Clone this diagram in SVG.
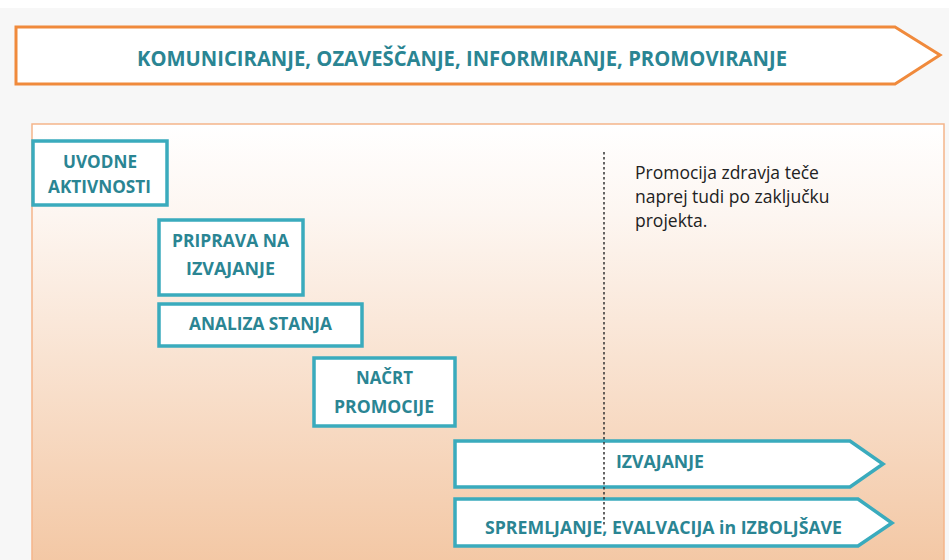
<svg xmlns="http://www.w3.org/2000/svg" width="949" height="560" viewBox="0 0 949 560">
<defs>
<linearGradient id="bg" x1="0" y1="0" x2="0" y2="1">
<stop offset="0" stop-color="#ffffff"/>
<stop offset="0.2" stop-color="#fdf6f1"/>
<stop offset="1" stop-color="#f3c6a2"/>
</linearGradient>
<style>
.box{fill:#ffffff;stroke:#3aabbd;stroke-width:3.5}
.lbl{font-family:"Open Sans","Liberation Sans",sans-serif;font-weight:bold;font-size:17.5px;fill:#2a8593}
.note{font-family:"Open Sans","Liberation Sans",sans-serif;font-size:17.5px;fill:#222222}
</style>
</defs>
<rect x="0" y="0" width="949" height="560" fill="#f7f7f7"/>
<rect x="0" y="0" width="949" height="8" fill="#ffffff"/>
<g id="top-arrow">
<polygon points="16,27 895,27 940,55 895,84 16,84" fill="#ffffff" stroke="#f08a3c" stroke-width="3"/>
<text class="lbl" x="137" y="66" style="font-size:20.5px" textLength="650" lengthAdjust="spacingAndGlyphs">KOMUNICIRANJE, OZAVEŠČANJE, INFORMIRANJE, PROMOVIRANJE</text>
</g>
<g id="frame">
<rect x="32" y="124" width="912" height="450" fill="url(#bg)" stroke="#f5b58a" stroke-width="1.5"/>
</g>
<g id="uvodne">
<rect class="box" x="33" y="141" width="134" height="64"/>
<text class="lbl" x="63" y="168" textLength="74" lengthAdjust="spacingAndGlyphs">UVODNE</text>
<text class="lbl" x="48" y="193" textLength="103" lengthAdjust="spacingAndGlyphs">AKTIVNOSTI</text>
</g>
<g id="priprava">
<rect class="box" x="159" y="220" width="144" height="75"/>
<text class="lbl" x="172" y="247" textLength="117" lengthAdjust="spacingAndGlyphs">PRIPRAVA NA</text>
<text class="lbl" x="186" y="275" textLength="89" lengthAdjust="spacingAndGlyphs">IZVAJANJE</text>
</g>
<g id="analiza">
<rect class="box" x="159" y="304" width="203" height="42"/>
<text class="lbl" x="189" y="330" textLength="143" lengthAdjust="spacingAndGlyphs">ANALIZA STANJA</text>
</g>
<g id="nacrt">
<rect class="box" x="314" y="358" width="141" height="68"/>
<text class="lbl" x="356" y="384" textLength="57" lengthAdjust="spacingAndGlyphs">NAČRT</text>
<text class="lbl" x="334" y="413" textLength="100" lengthAdjust="spacingAndGlyphs">PROMOCIJE</text>
</g>
<g id="izvajanje">
<polygon class="box" points="455,441 850,441 883,464 850,487 455,487"/>
<text class="lbl" x="616" y="468" textLength="88" lengthAdjust="spacingAndGlyphs">IZVAJANJE</text>
</g>
<g id="spremljanje">
<polygon class="box" points="455,499 858,499 892,523 858,546 455,546"/>
<text class="lbl" x="485" y="534" textLength="357" lengthAdjust="spacingAndGlyphs">SPREMLJANJE, EVALVACIJA in IZBOLJŠAVE</text>
</g>
<g id="note">
<text class="note" x="635" y="179">Promocija zdravja teče</text>
<text class="note" x="635" y="203">naprej tudi po zaključku</text>
<text class="note" x="635" y="227">projekta.</text>
</g>
<g id="connectors">
<line x1="604" y1="152" x2="604" y2="526" stroke="#333333" stroke-width="1.5" stroke-dasharray="2.5,2.5"/>
</g>
</svg>
